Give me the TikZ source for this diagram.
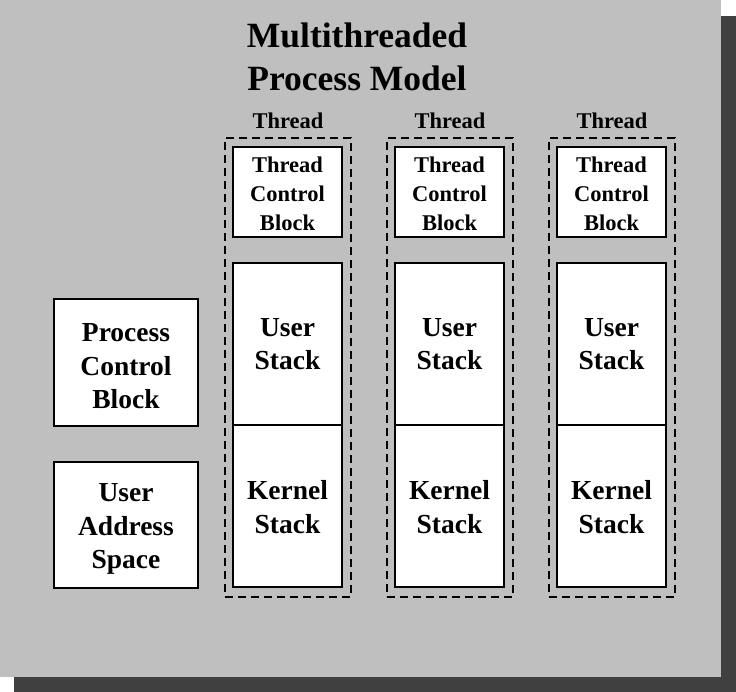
\documentclass[tikz,border=0pt]{standalone}
\usepackage{fontspec}
\setmainfont{Liberation Serif}
\begin{document}
\begin{tikzpicture}[x=1pt,y=-1pt,
  box/.style={draw=black,line width=2pt,fill=white,inner sep=0pt},
  txt/.style={inner sep=0pt,align=center,font=\bfseries\fontsize{27.5}{33.5}\selectfont},
  ttxt/.style={txt,font=\bfseries\fontsize{22.5}{29}\selectfont},
  tcb/.style={box,minimum width=109pt,minimum height=90pt},
  stk/.style={box,minimum width=109pt,minimum height=162pt},
  grp/.style={draw=black,line width=1.6pt,dash pattern=on 8pt off 5pt,inner sep=0pt,minimum width=126pt,minimum height=459pt},
  lbl/.style={anchor=base,inner sep=0pt,font=\bfseries\fontsize{22.5}{27}\selectfont}]
\useasboundingbox (0,0) rectangle (736,692);
\fill[white] (0,0) rectangle (736,692);
\fill[black!75] (14,16) rectangle (736,692);
\fill[black!25] (0,0) rectangle (721,677);
\node[inner sep=0pt,align=center,font=\bfseries\fontsize{35.5}{42.5}\selectfont] (title) at (357,57) {Multithreaded\\Process Model};
\node[box,minimum width=144pt,minimum height=127pt] (pcb) at (126,362.5) {};
\node[txt] (pcbt) at ([yshift=-4pt]pcb.center) {Process\\Control\\Block};
\node[box,minimum width=144pt,minimum height=126pt] (uas) at (126,525) {};
\node[txt] (uast) at ([yshift=-4pt]uas.center) {User\\Address\\Space};
\foreach \i/\dx in {1/0,2/162,3/324}{
  \node[grp] (g\i) at (288+\dx,367.5) {};
  \node[lbl] (t\i) at (288+\dx,129) {Thread};
  \node[tcb] (tcb\i) at (287.5+\dx,192) {};
  \node[ttxt] (tcbt\i) at ([yshift=-2pt]tcb\i.center) {Thread\\Control\\Block};
  \node[stk] (us\i) at (287.5+\dx,344) {};
  \node[txt] (ust\i) at (us\i.center) {User\\Stack};
  \node[stk] (ks\i) at (287.5+\dx,506) {};
  \node[txt] (kst\i) at ([yshift=-1pt]ks\i.center) {Kernel\\Stack};
}
\end{tikzpicture}
\end{document}
